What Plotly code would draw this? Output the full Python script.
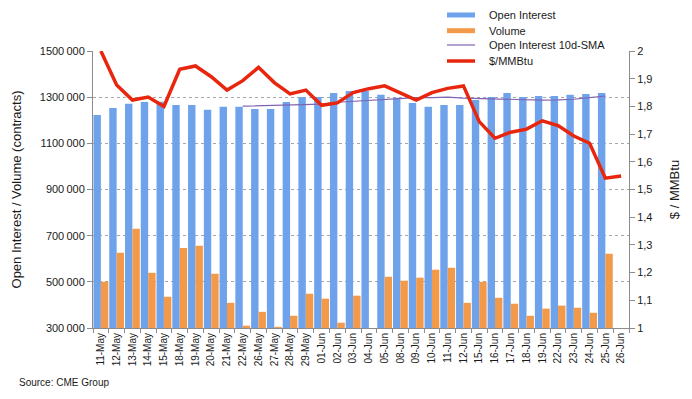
import plotly.graph_objects as go

categories = ["11-May", "12-May", "13-May", "14-May", "15-May", "18-May", "19-May", "20-May",
              "21-May", "22-May", "26-May", "27-May", "28-May", "29-May", "01-Jun", "02-Jun",
              "03-Jun", "04-Jun", "05-Jun", "08-Jun", "09-Jun", "10-Jun", "11-Jun", "12-Jun",
              "15-Jun", "16-Jun", "17-Jun", "18-Jun", "19-Jun", "22-Jun", "23-Jun", "24-Jun",
              "25-Jun", "26-Jun"]

open_interest = [1223000, 1253000, 1271000, 1279000, 1280000, 1266000, 1266000, 1245000,
                 1258000, 1258000, 1249000, 1249000, 1279000, 1301000, 1301000, 1318000,
                 1327000, 1327000, 1310000, 1297000, 1275000, 1258000, 1266000, 1266000,
                 1288000, 1301000, 1318000, 1301000, 1305000, 1305000, 1310000, 1314000,
                 1318000, None]

volume = [500000, 626000, 730000, 539000, 435000, 647000, 656000, 535000,
          409000, 310000, 370000, 305000, 353000, 448000, 427000, 323000,
          440000, None, 522000, 505000, 518000, 552000, 561000, 409000,
          500000, 431000, 405000, 353000, 384000, 397000, 388000, 366000,
          622000, None]

oi_sma10 = [None, None, None, None, None, None, None, None,
            None, 1261000, 1263000, 1264000, 1264000, 1266000, 1270000, 1278000,
            1282000, 1288000, 1292000, 1295000, 1298000, 1298000, 1300000, 1296000,
            1294000, 1292000, 1291000, 1289000, 1287000, 1288000, 1291000, 1298000,
            1305000, None]

price = [2.0, 1.877, 1.823, 1.834, 1.800, 1.934, 1.946, 1.907,
         1.859, 1.893, 1.941, 1.886, 1.845, 1.859, 1.804, 1.8125,
         1.850, 1.864, 1.874, 1.847, 1.823, 1.850, 1.865, 1.874,
         1.745, 1.685, 1.707, 1.718, 1.748, 1.731, 1.693, 1.667,
         1.541, 1.549]

left_tickvals = [300000, 500000, 700000, 900000, 1100000, 1300000, 1500000]
left_ticktext = ["300\u2009000", "500\u2009000", "700\u2009000", "900\u2009000",
                 "1100\u2009000", "1300\u2009000", "1500\u2009000"]
right_tickvals = [1.0, 1.1, 1.2, 1.3, 1.4, 1.5, 1.6, 1.7, 1.8, 1.9, 2.0]
right_ticktext = ["1", "1,1", "1,2", "1,3", "1,4", "1,5", "1,6", "1,7", "1,8", "1,9", "2"]

series_names = ["Open Interest", "Volume", "Open Interest 10d-SMA", "$/MMBtu"]
series_colors = ["#6ea2ea", "#f2994a", "#8064b4", "#e8260e"]

FONT = "Liberation Sans, Arial, sans-serif"
TXT = "#1a1a1a"
AX = "#8c8c8c"

fig = go.Figure()
fig.add_trace(go.Bar(x=categories, y=open_interest, name=series_names[0],
                     marker=dict(color=series_colors[0], line=dict(width=0)), yaxis="y"))
fig.add_trace(go.Bar(x=categories, y=volume, name=series_names[1],
                     marker=dict(color=series_colors[1], line=dict(width=0)), yaxis="y"))
fig.add_trace(go.Scatter(x=categories, y=oi_sma10, name=series_names[2],
                         mode="lines", line=dict(color=series_colors[2], width=1.2), yaxis="y"))
fig.add_trace(go.Scatter(x=categories, y=price, name=series_names[3],
                         mode="lines", line=dict(color=series_colors[3], width=3.5), yaxis="y2"))

# Custom legend (compact row spacing like the reference)
leg_x0, leg_x1, leg_tx = 0.6604, 0.7127, 0.7351
leg_rows = [1.130, 1.0733, 1.0217, 0.9639]
shapes = []
annotations = []
for i, (nm, col) in enumerate(zip(series_names, series_colors)):
    yy = leg_rows[i]
    if i < 2:
        shapes.append(dict(type="rect", xref="paper", yref="paper",
                           x0=leg_x0, x1=leg_x1, y0=yy - 0.009, y1=yy + 0.009,
                           fillcolor=col, line=dict(width=0)))
    else:
        shapes.append(dict(type="line", xref="paper", yref="paper",
                           x0=leg_x0, x1=leg_x1, y0=yy, y1=yy,
                           line=dict(color=col, width=1.2 if i == 2 else 3.5)))
    annotations.append(dict(text=nm, xref="paper", yref="paper", x=leg_tx, y=yy,
                            xanchor="left", yanchor="middle", showarrow=False,
                            font=dict(size=11, color=TXT)))

annotations.append(dict(text="Source: CME Group", xref="paper", yref="paper",
                        x=-0.142, y=-0.195, xanchor="left", yanchor="middle",
                        showarrow=False, font=dict(size=10, color=TXT)))

# The page body has an 8px default margin, so the figure is sized to fit inside it.
fig.update_layout(
    width=676, height=383,
    margin=dict(l=85, r=55, t=43, b=63, autoexpand=False),
    paper_bgcolor="white", plot_bgcolor="white",
    font=dict(family=FONT, size=11, color=TXT),
    barmode="group", bargap=0.06, bargroupgap=0.0,
    showlegend=False,
    xaxis=dict(type="category", tickangle=-90, tickfont=dict(size=10, color=TXT),
               showgrid=False, showline=True, linecolor=AX, linewidth=1,
               ticks="outside", tickson="boundaries", ticklen=4, tickcolor=AX,
               range=[-0.5, len(categories) - 0.5]),
    yaxis=dict(range=[300000, 1500000], tickvals=left_tickvals, ticktext=left_ticktext,
               tickfont=dict(size=11, color=TXT),
               showgrid=True, gridcolor="#a6a6a6", griddash="dot", gridwidth=1,
               showline=True, linecolor=AX, linewidth=1,
               ticks="outside", ticklen=5, tickcolor=AX, zeroline=False,
               title=dict(text="Open Interest / Volume (contracts)",
                          font=dict(size=13, color=TXT), standoff=15)),
    yaxis2=dict(range=[1.0, 2.0], tickvals=right_tickvals, ticktext=right_ticktext,
                overlaying="y", side="right", tickfont=dict(size=11, color=TXT),
                showgrid=False, showline=True, linecolor=AX, linewidth=1,
                ticks="outside", ticklen=5, tickcolor=AX, zeroline=False,
                title=dict(text="$ / MMBtu", font=dict(size=13, color=TXT), standoff=18)),
    shapes=shapes,
    annotations=annotations,
)

fig.write_html("out.html")
